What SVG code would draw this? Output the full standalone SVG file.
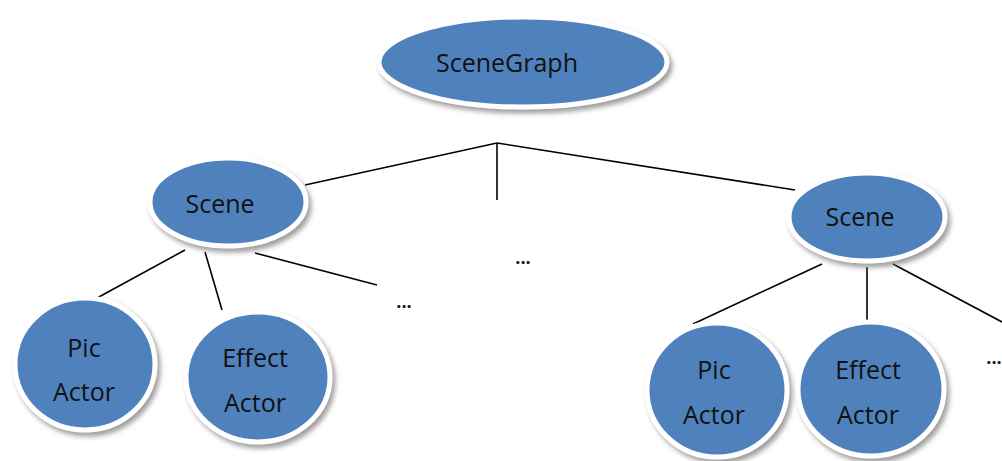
<svg xmlns="http://www.w3.org/2000/svg" width="1002" height="461" viewBox="0 0 1002 461">
  <style>
    .node { fill: #4f81bd; stroke: #ffffff; stroke-width: 5; filter: url(#shadow); }
    .label { font-family: "Open Sans", "Liberation Sans", sans-serif; font-size: 25px; fill: #111111; text-anchor: middle; dominant-baseline: central; }
    .edge { stroke: #000000; stroke-width: 1.6; fill: none; }
    .more { font-family: "Open Sans", "Liberation Sans", sans-serif; font-size: 18px; font-weight: bold; fill: #1a1a1a; text-anchor: middle; }
  </style>
  <defs>
    <filter id="shadow" x="-20%" y="-20%" width="150%" height="150%">
      <feDropShadow dx="3" dy="4" stdDeviation="2.5" flood-color="#7f7f7f" flood-opacity="0.75"/>
    </filter>
  </defs>
  <rect width="1002" height="461" fill="#ffffff"/>

  <g id="connectors">
    <line class="edge" x1="497" y1="143" x2="305" y2="185"/>
    <line class="edge" x1="497" y1="143" x2="497" y2="200"/>
    <line class="edge" x1="497" y1="143" x2="795" y2="190"/>
    <line class="edge" x1="185" y1="250" x2="97" y2="298"/>
    <line class="edge" x1="205" y1="252" x2="222" y2="310"/>
    <line class="edge" x1="255" y1="253" x2="377" y2="285"/>
    <line class="edge" x1="822" y1="264" x2="693" y2="324"/>
    <line class="edge" x1="867" y1="267" x2="867" y2="324"/>
    <line class="edge" x1="893" y1="264" x2="1002" y2="322"/>
  </g>

  <g id="scenegraph">
    <ellipse class="node" cx="523" cy="62" rx="144" ry="45"/>
    <text class="label" x="507" y="62">SceneGraph</text>
  </g>

  <g id="scene-left">
    <ellipse class="node" cx="228" cy="202" rx="78" ry="44"/>
    <text class="label" x="220" y="203">Scene</text>
  </g>

  <g id="scene-right">
    <ellipse class="node" cx="867" cy="217" rx="78" ry="44"/>
    <text class="label" x="860" y="216">Scene</text>
  </g>

  <g id="pic-actor-left">
    <ellipse class="node" cx="85" cy="364" rx="70" ry="66"/>
    <text class="label" x="84" y="347">Pic</text>
    <text class="label" x="84" y="391">Actor</text>
  </g>

  <g id="effect-actor-left">
    <ellipse class="node" cx="258" cy="377" rx="72" ry="65"/>
    <text class="label" x="255" y="357">Effect</text>
    <text class="label" x="255" y="402">Actor</text>
  </g>

  <g id="pic-actor-right">
    <ellipse class="node" cx="717" cy="390" rx="70" ry="67"/>
    <text class="label" x="714" y="369">Pic</text>
    <text class="label" x="714" y="414">Actor</text>
  </g>

  <g id="effect-actor-right">
    <ellipse class="node" cx="871" cy="389" rx="73" ry="67"/>
    <text class="label" x="868" y="369">Effect</text>
    <text class="label" x="868" y="414">Actor</text>
  </g>

  <g id="more-labels">
    <text class="more" x="523" y="264">...</text>
    <text class="more" x="404" y="308">...</text>
    <text class="more" x="994" y="364">...</text>
  </g>
</svg>
